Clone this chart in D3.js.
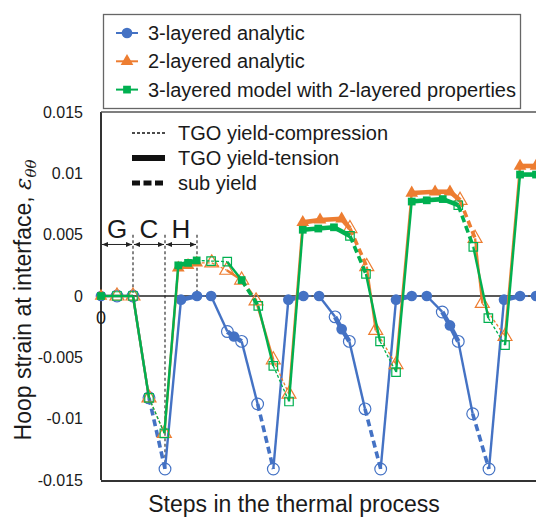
<!DOCTYPE html>
<html>
<head>
<meta charset="utf-8">
<script src="https://cdn.jsdelivr.net/npm/d3@7"></script>
<style>
  body { margin: 0; background: #fff; }
  text { font-family: "Liberation Sans", Arial, sans-serif; fill: #1a1a1a; }
</style>
</head>
<body>
<svg id="chart"></svg>
<script>
const width = 536, height = 518;
const margin = { top: 112, bottom: 38, left: 101, right: 0 };

// series names (legend order)
const seriesNames = ["3-layered analytic", "2-layered analytic", "3-layered model with 2-layered properties"];

// state of the segment that ends at each point:
// e = elastic, t = TGO yield-tension, c = TGO yield-compression, s = sub yield
// open = 1 means hollow marker

// 3-layered analytic
const blueStep = [0, 1, 2, 3, 4, 5, 6, 6.88, 7.9, 8.31, 8.79, 9.79, 10.77, 11.71, 12.65, 13.63, 14.63, 15.04, 15.52,
  16.5, 17.48, 18.44, 19.42, 20.36, 21.33, 21.81, 22.33, 23.23, 24.25, 25.19, 26.19, 27.19];
const blueStrain = [0, 0, 0, -0.0083, -0.0141, -0.0003, 0, 0, -0.0029, -0.0033, -0.0037, -0.0088, -0.0141, -0.0003, 0, 0,
  -0.0017, -0.0027, -0.0037, -0.0092, -0.0141, -0.0003, 0, 0, -0.0013, -0.0024, -0.0037, -0.0096, -0.0141, -0.0003, 0, 0];
const blueState = ["e", "e", "e", "e", "s", "e", "t", "c", "e", "t", "t", "e", "s", "e", "t", "c", "e", "t", "t", "e", "s",
  "e", "t", "c", "e", "t", "t", "e", "s", "e", "t", "c"];
const blueOpen = [0, 1, 1, 1, 1, 0, 0, 0, 1, 0, 1, 1, 1, 0, 0, 0, 1, 0, 1, 1, 1, 0, 0, 0, 1, 0, 1, 1, 1, 0, 0, 0];

// 2-layered analytic
const orangeStep = [0, 1, 2, 3, 3.96, 4.83, 5.44, 5.98, 6.92, 7.86, 8.79, 9.69, 10.77, 11.75, 12.61, 13.69, 15.04, 15.56,
  16.61, 17.17, 18.44, 19.42, 20.88, 21.81, 22.44, 23.38, 23.83, 25.25, 26.19, 27.19];
const orangeStrain = [0, 0, 0, -0.0083, -0.0112, 0.0023, 0.0025, 0.0027, 0.0027, 0.0021, 0.0013, -0.0004, -0.0052, -0.008,
  0.006, 0.0062, 0.0063, 0.0055, 0.0024, -0.0028, -0.0056, 0.0084, 0.0085, 0.0085, 0.0078, 0.0047, -0.0006, -0.0033, 0.0106, 0.0106];
const orangeState = ["e", "e", "e", "e", "c", "e", "t", "t", "c", "c", "e", "s", "e", "c", "e", "t", "t", "t", "s", "e", "c",
  "e", "t", "t", "t", "s", "e", "c", "e", "t"];
const orangeOpen = [0, 1, 1, 1, 1, 0, 0, 0, 1, 1, 1, 1, 1, 1, 0, 0, 0, 1, 1, 1, 1, 0, 0, 0, 1, 1, 1, 1, 0, 0];

// 3-layered model with 2-layered properties
const greenStep = [0, 1, 2, 3, 3.96, 4.83, 5.44, 5.98, 6.88, 7.89, 8.79, 9.83, 10.77, 11.75, 12.61, 13.58, 14.56, 15.56,
  16.56, 17.44, 18.44, 19.42, 20.36, 21.36, 22.33, 23.27, 24.21, 25.25, 26.19, 27.19];
const greenStrain = [0, 0, 0, -0.0083, -0.0112, 0.0025, 0.0027, 0.0029, 0.00285, 0.0028, 0.0013, -0.0008, -0.0057, -0.0086,
  0.0054, 0.0055, 0.0056, 0.0049, 0.0018, -0.0037, -0.0062, 0.0077, 0.0078, 0.0079, 0.0074, 0.004, -0.0018, -0.004, 0.0099, 0.0099];
const greenState = ["e", "e", "e", "e", "c", "e", "t", "t", "c", "c", "e", "s", "e", "c", "e", "t", "t", "t", "s", "e", "c",
  "e", "t", "t", "t", "s", "e", "c", "e", "t"];
const greenOpen = [0, 1, 1, 1, 1, 0, 0, 0, 1, 1, 0, 1, 1, 1, 0, 0, 0, 1, 1, 1, 1, 0, 0, 0, 1, 1, 1, 1, 0, 0];

// y ticks and annotations
const yTicks = [-0.015, -0.01, -0.005, 0, 0.005, 0.01, 0.015];
const yTickLabels = ["-0.015", "-0.01", "-0.005", "0", "0.005", "0.01", "0.015"];
const phaseNames = ["G", "C", "H"];
const phaseBounds = [0, 2, 4, 6];
const phaseLineBottom = [0, -0.014, 0];   // lower end of the guide at bounds 2, 4, 6
const stateNames = ["TGO yield-compression", "TGO yield-tension", "sub yield"];
const stateKeys = ["c", "t", "s"];

const svg = d3.select("#chart")
    .attr("width", width)
    .attr("height", height);

const xScale = d3.scaleLinear()
    .domain([0, 28])
    .range([margin.left, margin.left + 28 * 16]);

const yScale = d3.scaleLinear()
    .domain([-0.015, 0.015])
    .range([height - margin.bottom, margin.top]);

const colorScale = d3.scaleOrdinal()
    .domain(seriesNames)
    .range(["#4472C4", "#ED7D31", "#00B050"]);

const lineStyle = {
    e: { w: 2.4, dash: null },
    t: { w: 4.6, dash: null },
    c: { w: 1.3, dash: "3,2" },
    s: { w: 3.6, dash: "7,4" }
};

const symbols = [d3.symbolCircle, d3.symbolTriangle, d3.symbolSquare];
const symbolSize = [90, 70, 60];

// frame
svg.append("line")
    .attr("x1", margin.left).attr("x2", margin.left)
    .attr("y1", yScale(0.015)).attr("y2", yScale(-0.015))
    .attr("stroke", "#333").attr("stroke-width", 2);
svg.append("line")
    .attr("x1", margin.left).attr("x2", width)
    .attr("y1", yScale(0.015)).attr("y2", yScale(0.015))
    .attr("stroke", "#555").attr("stroke-width", 1.5);
svg.append("line")
    .attr("x1", margin.left).attr("x2", width)
    .attr("y1", yScale(-0.015) + 1).attr("y2", yScale(-0.015) + 1)
    .attr("stroke", "#333").attr("stroke-width", 2);

// y axis labels
svg.append("g")
    .attr("transform", `translate(${margin.left - 15}, 0)`)
    .call(d3.axisLeft(yScale).tickValues(yTicks).tickFormat((d, i) => yTickLabels[i]).tickSize(0))
    .call(g => g.select(".domain").remove())
    .selectAll("text")
    .style("font-size", "16px")
    .style("font-family", "Liberation Sans, Arial, sans-serif")
    .attr("fill", "#1a1a1a");

// zero line (x axis)
svg.append("line")
    .attr("x1", margin.left).attr("x2", width)
    .attr("y1", yScale(0)).attr("y2", yScale(0))
    .attr("stroke", "#222").attr("stroke-width", 1.5);

svg.append("text")
    .attr("x", xScale(0))
    .attr("y", yScale(0) + 28)
    .attr("text-anchor", "middle")
    .style("font-size", "18px")
    .text("0");

// y axis title
const yTitle = svg.append("text")
    .attr("transform", `translate(31, 300) rotate(-90)`)
    .attr("text-anchor", "middle")
    .style("font-size", "23px");
yTitle.append("tspan").text("Hoop strain at interface, ");
yTitle.append("tspan").text("ε")
    .style("font-family", "DejaVu Serif, serif").style("font-style", "italic");
yTitle.append("tspan").text("θθ").attr("dy", 5)
    .style("font-family", "DejaVu Serif, serif").style("font-style", "italic").style("font-size", "15px");

// x axis title
svg.append("text")
    .attr("x", 294)
    .attr("y", 512)
    .attr("text-anchor", "middle")
    .style("font-size", "23px")
    .text("Steps in the thermal process");

// phase guides G / C / H
const arrowY = yScale(0.0042);
phaseBounds.slice(1).forEach((b, i) => {
    svg.append("line")
        .attr("x1", xScale(b)).attr("x2", xScale(b))
        .attr("y1", yScale(0.005)).attr("y2", yScale(phaseLineBottom[i]))
        .attr("stroke", "#222").attr("stroke-width", 1.1)
        .attr("stroke-dasharray", "3,2.5");
});

const defs = svg.append("defs");
defs.append("marker")
    .attr("id", "arr")
    .attr("viewBox", "0 0 10 10")
    .attr("refX", 10).attr("refY", 5)
    .attr("markerWidth", 6).attr("markerHeight", 6)
    .attr("orient", "auto-start-reverse")
    .append("path")
    .attr("d", "M0,1 L10,5 L0,9 z")
    .attr("fill", "#222");

phaseNames.forEach((p, i) => {
    const x0 = xScale(phaseBounds[i]) + 1, x1 = xScale(phaseBounds[i + 1]) - 1;
    svg.append("line")
        .attr("x1", x0).attr("x2", x1)
        .attr("y1", arrowY).attr("y2", arrowY)
        .attr("stroke", "#222").attr("stroke-width", 1)
        .attr("marker-start", "url(#arr)")
        .attr("marker-end", "url(#arr)");
    svg.append("text")
        .attr("x", (x0 + x1) / 2)
        .attr("y", arrowY - 6)
        .attr("text-anchor", "middle")
        .style("font-size", "26px")
        .text(p);
});

// series
const allSeries = [
    { name: seriesNames[0], step: blueStep, strain: blueStrain, state: blueState, open: blueOpen },
    { name: seriesNames[1], step: orangeStep, strain: orangeStrain, state: orangeState, open: orangeOpen },
    { name: seriesNames[2], step: greenStep, strain: greenStrain, state: greenState, open: greenOpen }
];

allSeries.forEach((s, k) => {
    const pts = s.step.map((u, i) => ({ u: u, v: s.strain[i], state: s.state[i], open: s.open[i] }));
    const segs = pts.slice(1).map((p, i) => ({ a: pts[i], b: p }));
    const g = svg.append("g");

    g.selectAll("line.seg")
        .data(segs)
        .enter().append("line")
        .attr("class", "seg")
        .attr("x1", d => xScale(d.a.u)).attr("y1", d => yScale(d.a.v))
        .attr("x2", d => xScale(d.b.u)).attr("y2", d => yScale(d.b.v))
        .attr("stroke", colorScale(s.name))
        .attr("stroke-width", d => lineStyle[d.b.state].w)
        .attr("stroke-dasharray", d => lineStyle[d.b.state].dash);

    g.selectAll("path.mk")
        .data(pts)
        .enter().append("path")
        .attr("class", "mk")
        .attr("transform", d => `translate(${xScale(d.u)},${yScale(d.v)})`)
        .attr("d", d => d3.symbol().type(symbols[k]).size(d.open ? symbolSize[k] * 1.2 : symbolSize[k])())
        .attr("fill", d => d.open ? "none" : colorScale(s.name))
        .attr("stroke", colorScale(s.name))
        .attr("stroke-width", d => d.open ? 1.2 : 0);
});

// line-style legend inside the plot
const styleLegend = svg.selectAll(".stylelegend")
    .data(stateKeys)
    .enter().append("g")
    .attr("class", "stylelegend")
    .attr("transform", (d, i) => `translate(0, ${133 + i * 25})`);

styleLegend.append("line")
    .attr("x1", 132).attr("x2", 165)
    .attr("y1", 0).attr("y2", 0)
    .attr("stroke", "#111")
    .attr("stroke-width", d => ({ c: 1.3, t: 6, s: 5 })[d])
    .attr("stroke-dasharray", d => ({ c: "3,2", t: null, s: "8,3.5" })[d]);

styleLegend.append("text")
    .attr("x", 178)
    .attr("y", 7)
    .style("font-size", "20px")
    .text((d, i) => stateNames[i]);

// series legend
svg.append("rect")
    .attr("x", 103.5).attr("y", 14.5)
    .attr("width", 417).attr("height", 94)
    .attr("fill", "white")
    .attr("stroke", "#666").attr("stroke-width", 1.3);

const legend = svg.selectAll(".legend")
    .data(seriesNames)
    .enter().append("g")
    .attr("class", "legend")
    .attr("transform", (d, i) => `translate(0, ${33 + i * 28.3})`);

legend.append("line")
    .attr("x1", 116).attr("x2", 138)
    .attr("y1", 0).attr("y2", 0)
    .attr("stroke", d => colorScale(d))
    .attr("stroke-width", 2);

legend.append("path")
    .attr("transform", "translate(127,0)")
    .attr("d", (d, i) => d3.symbol().type(symbols[i]).size(symbolSize[i])())
    .attr("fill", d => colorScale(d));

legend.append("text")
    .attr("x", 148)
    .attr("y", 7)
    .style("font-size", "20px")
    .text(d => d);
</script>
</body>
</html>
